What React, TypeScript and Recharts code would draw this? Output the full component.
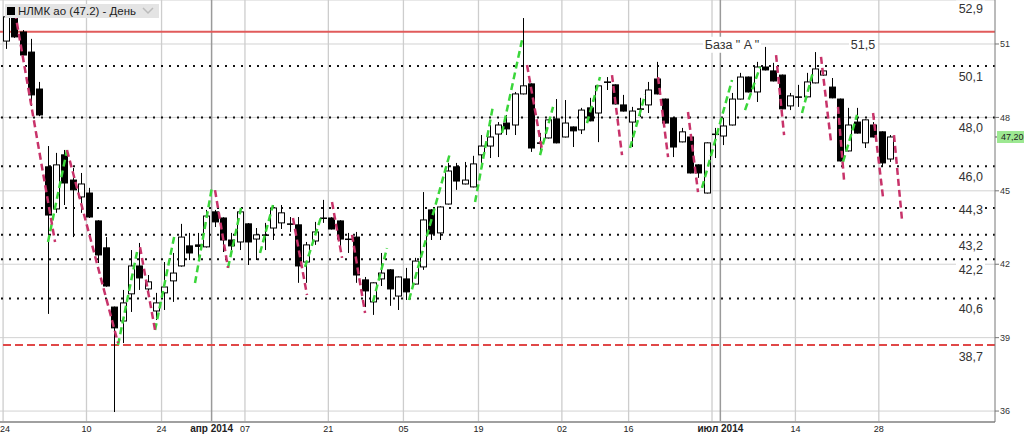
import React from 'react';
import { ComposedChart, Bar, Line, XAxis, YAxis, CartesianGrid, ReferenceLine } from 'recharts';

// daily candles, NLMK, 24 Feb - 30 Jul 2014 (index = trading day)
const opens = [
  51.12, 52.19, 51.49, 50.67, 49.16, 45.98, 44.26, 46.47, 45.44, 44.75,
  44.91, 43.77, 42.67, 40.25, 39.68, 40.79, 41.93, 40.99, 40.09, 40.83,
  41.32, 41.93, 42.75, 42.79, 42.71, 44.14, 43.89, 42.99, 42.91, 43.65,
  43.03, 43.2, 43.48, 43.69, 43.65, 43.61, 42.09, 42.95, 43.89, 43.89,
  43.77, 43.03, 43.11, 41.36, 40.46, 41.4, 41.77, 40.7, 41.4, 41.19,
  41.89, 44.22, 43.28, 44.46, 45.98, 45.28, 45.16, 46.47, 46.83, 47.32,
  47.77, 47.69, 48.96, 49.37, 46.96, 47.16, 47.94, 47.2, 47.61, 47.49,
  48.39, 48.18, 49.45, 49.33, 48.51, 47.81, 48.35, 48.51, 49.57, 48.75,
  47.98, 47.0, 47.2, 46.06, 44.91, 47.32, 47.24, 47.69, 48.75, 49.65,
  49.04, 50.06, 49.9, 49.73, 48.47, 48.84, 48.84, 49.41, 49.73, 49.24,
  48.75, 46.63, 47.81, 46.96, 47.69, 47.41, 46.3,
];
const highs = [
  52.19, 52.23, 51.57, 51.21, 49.45, 46.83, 46.55, 46.67, 45.93, 45.73,
  45.12, 43.8, 43.11, 40.27, 40.95, 42.58, 42.87, 41.56, 40.83, 42.09,
  42.46, 43.65, 43.28, 43.28, 44.22, 44.22, 43.92, 43.28, 44.17, 43.68,
  43.48, 43.69, 44.42, 44.42, 43.93, 43.93, 42.91, 43.73, 44.63, 43.92,
  43.8, 43.28, 43.32, 41.48, 41.26, 42.46, 41.8, 41.5, 41.85, 42.26,
  44.95, 44.25, 44.37, 46.14, 46.14, 46.18, 46.43, 47.28, 47.69, 47.81,
  48.1, 49.04, 52.06, 49.39, 47.36, 47.92, 48.75, 48.71, 47.63, 48.39,
  48.8, 49.31, 49.65, 49.35, 48.92, 48.43, 48.8, 49.45, 50.27, 48.77,
  48.0, 47.57, 47.22, 46.08, 46.98, 47.57, 47.98, 49.0, 49.82, 49.67,
  50.27, 50.88, 50.23, 49.75, 49.0, 49.33, 49.82, 50.67, 49.92, 49.61,
  48.77, 48.39, 48.39, 47.92, 47.81, 47.43, 47.28,
];
const lows = [
  50.8, 51.25, 50.47, 48.47, 48.05, 39.97, 44.1, 44.42, 43.11, 44.1,
  43.89, 42.05, 41.08, 35.96, 38.78, 40.05, 40.95, 40.66, 39.72, 40.13,
  40.46, 41.9, 42.17, 42.26, 42.68, 43.52, 42.5, 42.58, 42.58, 41.97,
  42.17, 42.58, 42.99, 43.44, 43.32, 41.24, 41.24, 42.79, 43.69, 43.42,
  42.67, 42.46, 41.24, 40.25, 39.93, 41.11, 40.3, 40.13, 40.54, 41.17,
  41.77, 42.99, 42.99, 44.44, 45.04, 45.26, 45.14, 46.06, 46.34, 46.38,
  47.28, 47.28, 48.94, 46.59, 46.47, 47.14, 46.94, 47.18, 46.79, 47.32,
  47.84, 46.99, 49.12, 48.53, 48.24, 46.79, 48.02, 48.18, 48.94, 47.75,
  46.38, 46.98, 45.71, 45.53, 44.89, 46.34, 46.87, 47.67, 48.73, 49.02,
  48.63, 49.92, 49.47, 48.33, 48.3, 48.43, 48.82, 49.39, 49.71, 48.78,
  46.2, 46.61, 47.34, 46.75, 47.18, 45.98, 46.18,
];
const closes = [
  52.11, 51.29, 50.55, 48.92, 48.1, 44.01, 46.06, 45.32, 45.04, 45.28,
  43.93, 42.38, 41.11, 39.4, 40.42, 41.93, 41.44, 41.28, 40.42, 41.07,
  41.64, 43.11, 42.46, 42.73, 43.97, 43.73, 42.99, 42.75, 44.14, 42.91,
  43.2, 43.18, 44.3, 44.1, 43.63, 41.93, 42.79, 43.32, 43.87, 43.44,
  43.03, 43.01, 41.56, 40.91, 41.24, 41.64, 40.99, 41.48, 40.87, 42.13,
  43.81, 43.24, 44.34, 45.81, 45.4, 45.44, 46.1, 46.83, 47.2, 47.69,
  47.53, 48.96, 49.29, 46.75, 46.94, 47.9, 46.96, 47.77, 47.45, 48.3,
  47.86, 49.29, 49.43, 48.55, 48.26, 48.26, 48.33, 49.12, 48.96, 47.77,
  46.79, 47.41, 45.73, 45.73, 46.96, 47.3, 47.65, 48.75, 49.65, 49.04,
  50.06, 49.94, 49.49, 48.35, 48.88, 48.82, 49.45, 49.98, 49.9, 48.8,
  46.22, 47.69, 47.36, 47.9, 47.2, 46.14, 47.2,
];

// x-axis ticks (trading-day index) and their labels
const dayTicks = [-0.35, 9.65, 18.65, 28.65, 38.65, 47.65, 56.65, 66.65, 74.65, 84.65, 94.65, 104.65];
const dayLabels = ['24', '10', '24', '07', '21', '05', '19', '02', '16', '', '14', '28'];
const monthTicks = [24.65, 85.65];
const monthLabels = ['апр 2014', 'июл 2014'];
const priceTicks = [36, 39, 42, 45, 48, 51];

// horizontal levels
const dottedLevels = [52.9, 50.1, 48.0, 46.0, 44.3, 43.2, 42.2, 40.6];
const baseLevel = 51.5;
const baseName = 'База " A "';
const supportLevel = 38.7;

// zigzag swings: [startIndex, startPrice, endIndex, endPrice]
const upSwings = [
  [5.04, 42.91, 7.31, 46.67], [13.43, 38.7, 15.71, 42.5], [17.87, 39.31, 20.26, 43.28],
  [22.66, 41.23, 24.7, 45.16], [26.62, 41.85, 28.18, 44.3], [30.46, 42.46, 32.01, 44.42],
  [35.85, 41.89, 37.77, 43.93], [44.0, 40.46, 45.68, 42.66], [48.32, 40.54, 53.24, 46.55],
  [56.24, 44.54, 58.39, 48.47], [59.47, 47.36, 61.87, 51.16], [64.03, 46.46, 65.59, 48.43],
  [69.66, 47.77, 71.22, 49.65], [74.82, 46.75, 76.62, 48.92], [83.45, 45.12, 87.05, 49.53],
  [88.61, 48.3, 90.41, 50.06], [95.44, 48.18, 96.76, 49.86], [100.36, 46.18, 102.04, 48.1],
];
const downSwings = [
  [1.08, 52.31, 5.88, 42.91], [7.31, 46.67, 13.43, 38.78], [16.07, 42.7, 17.87, 39.31],
  [25.06, 45.03, 26.62, 41.85], [34.41, 43.89, 36.09, 40.74], [39.09, 44.54, 40.29, 42.26],
  [41.49, 43.2, 43.05, 40.01], [62.47, 50.14, 64.27, 46.67], [72.66, 49.73, 73.86, 46.46],
  [78.18, 49.65, 79.38, 46.38], [81.77, 48.22, 82.97, 44.95], [92.33, 50.55, 93.29, 47.28],
  [97.72, 50.47, 98.92, 46.99], [99.76, 48.43, 100.48, 45.44], [103.96, 48.18, 105.16, 44.71],
  [106.47, 47.28, 107.43, 43.81],
];

const candles = opens.map((o, i) => ({ i, open: o, high: highs[i], low: lows[i], close: closes[i] }));
const lastClose = closes[closes.length - 1];

const FONT = 'Liberation Sans, Arial, sans-serif';
const fmt = (v: number, d = 1) => v.toFixed(d).replace('.', ',');

const Candle = (props: any) => {
  const { x, y, width, height, payload } = props;
  const top = Math.min(y, y + height);
  const h = Math.abs(height);
  const range = payload.high - payload.low || 1;
  const py = (v: number) => top + ((payload.high - v) / range) * h;
  const cx = Math.round(x + width / 2) + 0.5;
  const up = payload.close >= payload.open;
  const yTop = py(Math.max(payload.open, payload.close));
  const yBot = py(Math.min(payload.open, payload.close));
  return (
    <g>
      <line x1={cx} x2={cx} y1={top} y2={top + h} stroke="#000" strokeWidth={1} />
      <rect x={cx - 3} y={yTop} width={6} height={Math.max(0.5, yBot - yTop)}
        fill={up ? '#fff' : '#000'} stroke="#000" strokeWidth={1} />
    </g>
  );
};

const XTick = (props: any) => {
  const { x, payload } = props;
  const v = payload.value;
  const m = monthTicks.indexOf(v);
  const d = dayTicks.indexOf(v);
  const text = m >= 0 ? monthLabels[m] : d >= 0 ? dayLabels[d] : '';
  const atEdge = x < 8;
  return (
    <text x={atEdge ? 0 : x} y={432} textAnchor={atEdge ? 'start' : 'middle'} fontFamily={FONT}
      fontSize={m >= 0 ? 10 : 9} fontWeight={m >= 0 ? 'bold' : 'normal'} fill="#222">
      {text}
    </text>
  );
};

const levelLabel = (text: string, dy: number) => (p: any) => {
  const { x, y, width } = p.viewBox;
  const tx = x + width - 12;
  const ty = y + dy;
  return (
    <g>
      <rect x={tx - 27} y={ty - 8} width={29} height={16} fill="#fff" />
      <text x={tx} y={ty} textAnchor="end" dominantBaseline="central" fontSize={12.5}
        fontFamily={FONT} fill="#333">{text}</text>
    </g>
  );
};

const baseLabel = (p: any) => {
  const { x, y } = p.viewBox;
  const ty = y + 13;
  return (
    <g>
      <rect x={x + 703} y={ty - 8} width={58} height={16} fill="#fff" />
      <text x={x + 732} y={ty} textAnchor="middle" dominantBaseline="central" fontSize={12.5}
        fontFamily={FONT} fill="#333">{baseName}</text>
      <rect x={x + 849} y={ty - 8} width={29} height={16} fill="#fff" />
      <text x={x + 863} y={ty} textAnchor="middle" dominantBaseline="central" fontSize={12.5}
        fontFamily={FONT} fill="#333">{fmt(baseLevel)}</text>
    </g>
  );
};

const priceTag = (p: any) => {
  const { x, y, width } = p.viewBox;
  const bx = x + width + 2;
  return (
    <g>
      <line x1={x + width} x2={bx + 3} y1={y} y2={y} stroke="#555" />
      <rect x={bx} y={y - 6} width={29} height={12} fill="#9de892" />
      <text x={bx + 4} y={y} dominantBaseline="central" fontSize={9} fontFamily={FONT} fill="#222">
        {fmt(lastClose, 2)}
      </text>
    </g>
  );
};

export default function App() {
  return (
    <div style={{ position: 'fixed', left: 0, top: 0, width: 1024, height: 436, background: '#fff' }}>
      <ComposedChart width={1024} height={436} data={candles} margin={{ top: 0, right: 0, bottom: 0, left: 0 }}>
        <CartesianGrid vertical={false} stroke="#d2d2d2" />
        <XAxis dataKey="i" type="number" domain={[-0.72, 118.58]} allowDataOverflow
          ticks={[...dayTicks, ...monthTicks]} interval={0} tick={<XTick />} tickLine={false} tickSize={0}
          axisLine={{ stroke: '#a0a0a0', strokeWidth: 2 }} height={14} />
        <YAxis orientation="right" domain={[35.553, 52.798]} allowDataOverflow ticks={priceTicks}
          width={29} tickSize={4} tickMargin={1} axisLine={{ stroke: '#777' }} tickLine={{ stroke: '#777' }}
          tick={{ fontSize: 9, fill: '#333', fontFamily: FONT }} />

        {dayTicks.map((t) => (
          <ReferenceLine key={'g' + t} x={t} stroke="#cdcdcd" strokeWidth={1.3} zIndex={-90} />
        ))}
        {monthTicks.map((t) => (
          <ReferenceLine key={'m' + t} x={t} stroke="#9a9a9a" strokeWidth={1.5} zIndex={-80} />
        ))}

        {dottedLevels.map((v) => (
          <ReferenceLine key={'l' + v} y={v} stroke="#111" strokeWidth={2} strokeDasharray="2 6"
            ifOverflow="visible" zIndex={-60} label={levelLabel(fmt(v), v === 44.3 ? 2 : 11)} />
        ))}
        <ReferenceLine y={baseLevel} stroke="#e15b5b" strokeWidth={2} zIndex={-60} label={baseLabel} />
        <ReferenceLine y={supportLevel} stroke="#e04848" strokeWidth={2} strokeDasharray="8 4" zIndex={-60}
          label={levelLabel(fmt(supportLevel), 12)} />
        <ReferenceLine y={lastClose} stroke="none" strokeOpacity={0} label={priceTag} />

        <Bar dataKey={(d: any) => [d.low, d.high]} barSize={7} isAnimationActive={false}
          shape={(p: any) => <Candle {...p} />} />

        {upSwings.map((s, k) => (
          <Line key={'u' + k} data={[{ i: s[0], v: s[1] }, { i: s[2], v: s[3] }]} dataKey="v"
            stroke="#3ad63a" strokeWidth={2.5} strokeDasharray="7 4" dot={false} activeDot={false}
            isAnimationActive={false} />
        ))}
        {downSwings.map((s, k) => (
          <Line key={'d' + k} data={[{ i: s[0], v: s[1] }, { i: s[2], v: s[3] }]} dataKey="v"
            stroke="#c8336a" strokeWidth={2.5} strokeDasharray="7 4" dot={false} activeDot={false}
            isAnimationActive={false} />
        ))}
      </ComposedChart>
      <div style={{ position: 'absolute', left: 5, top: 4, height: 14, display: 'flex', alignItems: 'center',
        background: '#e4e4e4', padding: '0 5px 0 2px', fontFamily: FONT, fontSize: 11.5, color: '#222' }}>
        <span style={{ width: 8, height: 8, background: '#000', marginRight: 3, display: 'inline-block' }} />
        {`НЛМК ао (${lastClose}) - День`}
        <svg width={12} height={8} style={{ marginLeft: 6 }}>
          <polyline points="1,1 6,6 11,1" fill="none" stroke="#bbb" strokeWidth={1.5} />
        </svg>
      </div>
    </div>
  );
}
